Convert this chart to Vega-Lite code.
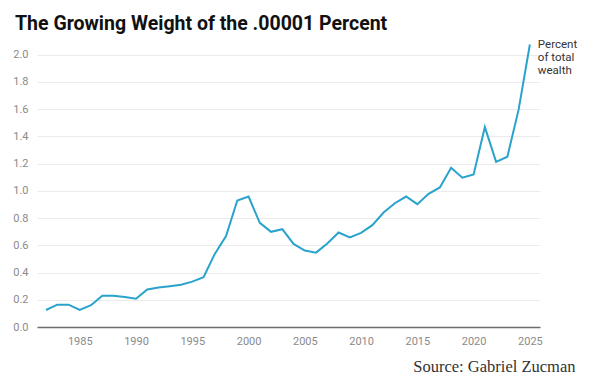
{
  "$schema": "https://vega.github.io/schema/vega-lite/v6.json",
  "autosize": "none",
  "width": 503,
  "height": 286,
  "padding": {"left": 37, "top": 41, "right": 50, "bottom": 59},
  "background": "white",
  "title": {
    "text": "The Growing Weight of the .00001 Percent",
    "anchor": "start",
    "frame": "group",
    "dx": -22,
    "dy": 25,
    "offset": 14,
    "baseline": "alphabetic",
    "font": "Roboto",
    "fontSize": 19.5,
    "fontWeight": "bold",
    "color": "#111111"
  },
  "config": {
    "view": {"stroke": null},
    "font": "Roboto"
  },
  "data": {
    "values": [
      {"year": 1982, "pct": 0.125},
      {"year": 1983, "pct": 0.164},
      {"year": 1984, "pct": 0.164},
      {"year": 1985, "pct": 0.125},
      {"year": 1986, "pct": 0.16},
      {"year": 1987, "pct": 0.23},
      {"year": 1988, "pct": 0.23},
      {"year": 1989, "pct": 0.22},
      {"year": 1990, "pct": 0.208},
      {"year": 1991, "pct": 0.275},
      {"year": 1992, "pct": 0.29},
      {"year": 1993, "pct": 0.30},
      {"year": 1994, "pct": 0.31},
      {"year": 1995, "pct": 0.333},
      {"year": 1996, "pct": 0.365},
      {"year": 1997, "pct": 0.537},
      {"year": 1998, "pct": 0.667},
      {"year": 1999, "pct": 0.929},
      {"year": 2000, "pct": 0.958},
      {"year": 2001, "pct": 0.765},
      {"year": 2002, "pct": 0.699},
      {"year": 2003, "pct": 0.718},
      {"year": 2004, "pct": 0.61},
      {"year": 2005, "pct": 0.561},
      {"year": 2006, "pct": 0.546},
      {"year": 2007, "pct": 0.613},
      {"year": 2008, "pct": 0.694},
      {"year": 2009, "pct": 0.657},
      {"year": 2010, "pct": 0.691},
      {"year": 2011, "pct": 0.748},
      {"year": 2012, "pct": 0.841},
      {"year": 2013, "pct": 0.909},
      {"year": 2014, "pct": 0.958},
      {"year": 2015, "pct": 0.902},
      {"year": 2016, "pct": 0.978},
      {"year": 2017, "pct": 1.025},
      {"year": 2018, "pct": 1.169},
      {"year": 2019, "pct": 1.096},
      {"year": 2020, "pct": 1.12},
      {"year": 2021, "pct": 1.468},
      {"year": 2022, "pct": 1.213},
      {"year": 2023, "pct": 1.25},
      {"year": 2024, "pct": 1.596},
      {"year": 2025, "pct": 2.074}
    ]
  },
  "encoding": {
    "x": {
      "field": "year",
      "type": "quantitative",
      "scale": {"domain": [1981.2, 2025.9], "nice": false, "zero": false},
      "axis": {
        "values": [1985, 1990, 1995, 2000, 2005, 2010, 2015, 2020, 2025],
        "format": "d",
        "grid": false,
        "ticks": false,
        "domainColor": "#6e6e6e",
        "domainWidth": 1.5,
        "labelFont": "Roboto",
        "labelFontSize": 11,
        "labelColor": "#8a8a8a",
        "labelPadding": 8,
        "title": "Source: Gabriel Zucman",
        "titleFont": "Liberation Serif",
        "titleFontSize": 16.5,
        "titleFontWeight": "normal",
        "titleColor": "#333333",
        "titleAnchor": null,
        "titleAlign": "right",
        "titleBaseline": "alphabetic",
        "titleX": 538,
        "titleY": 44
      }
    },
    "y": {
      "field": "pct",
      "type": "quantitative",
      "scale": {"domain": [0, 2.1], "nice": false},
      "axis": {
        "values": [0, 0.2, 0.4, 0.6, 0.8, 1.0, 1.2, 1.4, 1.6, 1.8, 2.0],
        "format": ".1f",
        "domain": false,
        "ticks": false,
        "gridColor": "#ebebeb",
        "gridWidth": 1,
        "labelFont": "Roboto",
        "labelFontSize": 11,
        "labelColor": "#8a8a8a",
        "labelPadding": 9,
        "title": null
      }
    }
  },
  "layer": [
    {
      "mark": {"type": "line", "color": "#2aa3cc", "strokeWidth": 2}
    },
    {
      "transform": [{"filter": "datum.year == 2025"}],
      "mark": {
        "type": "text",
        "text": ["Percent", "of total", "wealth"],
        "align": "left",
        "baseline": "top",
        "dx": 8,
        "dy": -6,
        "font": "Roboto",
        "fontSize": 11.5,
        "lineHeight": 13,
        "color": "#333333"
      }
    }
  ]
}
